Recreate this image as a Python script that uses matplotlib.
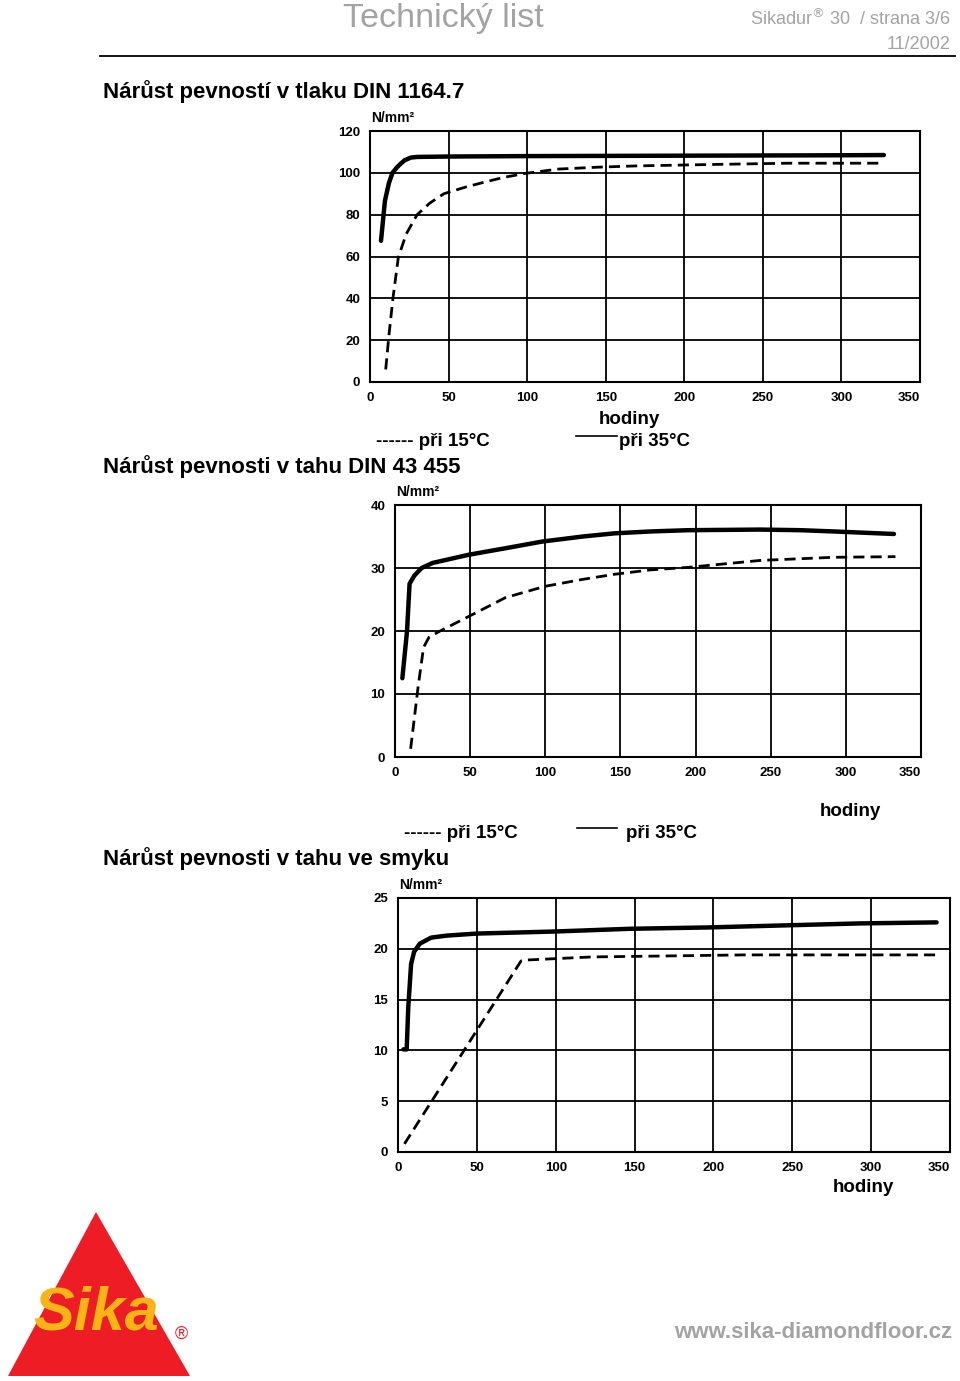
import matplotlib
matplotlib.use('Agg')
import matplotlib.pyplot as plt
from matplotlib.lines import Line2D
from matplotlib.patches import Polygon

plt.rcParams['font.family'] = ['Liberation Sans', 'DejaVu Sans']

W, H = 960, 1381

# tlak DIN 1164.7 (N/mm2 vs hodiny)
tlak_35_h = [7, 9.5, 12, 14.3, 17, 19, 22, 26, 30, 50, 100, 150, 200, 250, 300, 327]
tlak_35 = [67.5, 86.6, 95, 100, 102.5, 104, 106, 107.3, 107.6, 107.8, 108, 108.1, 108.2, 108.3, 108.4, 108.5]
tlak_15_h = [10, 12, 14.6, 18, 23, 30, 38, 47, 60, 72, 85, 98.5, 120, 145, 169, 218, 266, 327]
tlak_15 = [6, 22, 40, 59.5, 70.7, 80, 85.5, 90, 93, 95.4, 97.8, 99.7, 101.8, 102.7, 103.3, 104, 104.6, 104.6]

# tah DIN 43 455
tah_35_h = [4.9, 8, 9.7, 12.9, 17.7, 25, 49, 75, 98, 125, 146, 170, 195, 243, 270, 292, 332]
tah_35 = [12.5, 20, 27.5, 28.8, 30, 30.8, 32.1, 33.2, 34.2, 35, 35.5, 35.8, 36, 36.1, 36, 35.8, 35.4]
tah_15_h = [10.4, 15.3, 19, 22.6, 30, 49, 73.5, 100, 125, 146, 170, 195, 243, 292, 333]
tah_15 = [1.3, 11, 17.4, 19, 20, 22.3, 25.3, 27.1, 28.2, 29, 29.7, 30.1, 31.2, 31.7, 31.8]

# tah ve smyku
smyk_35_h = [3.4, 5.5, 6.5, 8.3, 10.2, 13.8, 21, 31, 50, 99, 147, 196, 244, 293, 341.5]
smyk_35 = [10.1, 10.1, 14.2, 18.5, 19.7, 20.5, 21.1, 21.3, 21.5, 21.7, 21.97, 22.1, 22.3, 22.5, 22.6]
smyk_15_h = [4.1, 78, 82, 123, 172, 220, 341.5]
smyk_15 = [0.8, 18.8, 18.9, 19.2, 19.3, 19.4, 19.4]

hodiny_ticks = [0, 50, 100, 150, 200, 250, 300, 350]

fig = plt.figure(figsize=(W / 100, H / 100), dpi=100)


def px(x, y):
    return x / W, 1 - y / H


def chart(box, ymax, ystep, h35, v35, h15, v15):
    left, top, right, bottom = box
    ax = fig.add_axes([left / W, 1 - bottom / H, (right - left) / W, (bottom - top) / H])
    ax.plot(h35, v35, color='black', lw=3.2, solid_capstyle='round', zorder=3)
    ax.plot(h15, v15, color='black', lw=2.0, dashes=(4, 2.2), zorder=3)
    ax.set_xlim(0, 350)
    ax.set_ylim(0, ymax)
    ax.set_xticks(hodiny_ticks)
    ax.set_yticks(range(0, ymax + 1, ystep))
    ax.grid(True, color='black', lw=1.3)
    for s in ax.spines.values():
        s.set_linewidth(1.5)
    ax.tick_params(length=0, labelsize=9.5, pad=7)
    for lab in ax.get_xticklabels() + ax.get_yticklabels():
        lab.set_fontweight('bold')
    ax.get_xticklabels()[-1].set_ha('right')
    ax.annotate('N/mm²', xy=(0, 1), xycoords='axes fraction', xytext=(1, 4),
                textcoords='offset points', fontsize=10, fontweight='bold', va='bottom')
    return ax


chart((370, 131, 920, 382), 120, 20, tlak_35_h, tlak_35, tlak_15_h, tlak_15)
chart((395, 505, 921, 757), 40, 10, tah_35_h, tah_35, tah_15_h, tah_15)
chart((398, 898, 950, 1152), 25, 5, smyk_35_h, smyk_35, smyk_15_h, smyk_15)

# header
gray = '#a3a3a3'
fig.text(*px(343, 27), 'Technický list', fontsize=24.5, color=gray, va='baseline')
fig.text(*px(951, 25), 'Sikadur$^{®}$ 30  / strana 3/6', fontsize=13, color=gray, ha='right', va='baseline')
fig.text(*px(951, 49), '11/2002', fontsize=13, color=gray, ha='right', va='baseline')
fig.add_artist(Line2D([100 / W, 955 / W], [1 - 56 / H] * 2, color='black', lw=1.3))

# titles
title_kw = dict(fontsize=16, fontweight='bold', va='center')
fig.text(*px(103, 92), 'Nárůst pevností v tlaku DIN 1164.7', **title_kw)
fig.text(*px(103, 467), 'Nárůst pevnosti v tahu DIN 43 455', **title_kw)
fig.text(*px(103, 859), 'Nárůst pevnosti v tahu ve smyku', **title_kw)

# legends / axis names
lab_kw = dict(fontsize=13.5, fontweight='bold', va='center')
fig.text(*px(629, 419), 'hodiny', ha='center', **lab_kw)
fig.text(*px(376, 442), '------ při 15°C', **lab_kw)
fig.add_artist(Line2D([576 / W, 617 / W], [1 - 436 / H] * 2, color='black', lw=1.2))
fig.text(*px(619, 442), 'při 35°C', **lab_kw)

fig.text(*px(850, 811), 'hodiny', ha='center', **lab_kw)
fig.text(*px(404, 834), '------ při 15°C', **lab_kw)
fig.add_artist(Line2D([577 / W, 617 / W], [1 - 828 / H] * 2, color='black', lw=1.2))
fig.text(*px(626, 834), 'při 35°C', **lab_kw)

fig.text(*px(863, 1187), 'hodiny', ha='center', **lab_kw)

# logo + web
fig.add_artist(Polygon([px(8, 1376), px(190, 1376), px(96, 1212)], closed=True,
                       transform=fig.transFigure, color='#ee1c25', lw=0))
fig.text(*px(96, 1314), 'Sika', fontsize=44, fontweight='bold', fontstyle='italic',
         color='#fbb415', ha='center', va='center')
fig.text(*px(181, 1334), '®', fontsize=13, color='#ee1c25', ha='center', va='center')
fig.text(*px(952, 1332), 'www.sika-diamondfloor.cz', fontsize=16, fontweight='bold',
         color='#a3a3a3', ha='right', va='center')

fig.savefig('out.png', dpi=100)
